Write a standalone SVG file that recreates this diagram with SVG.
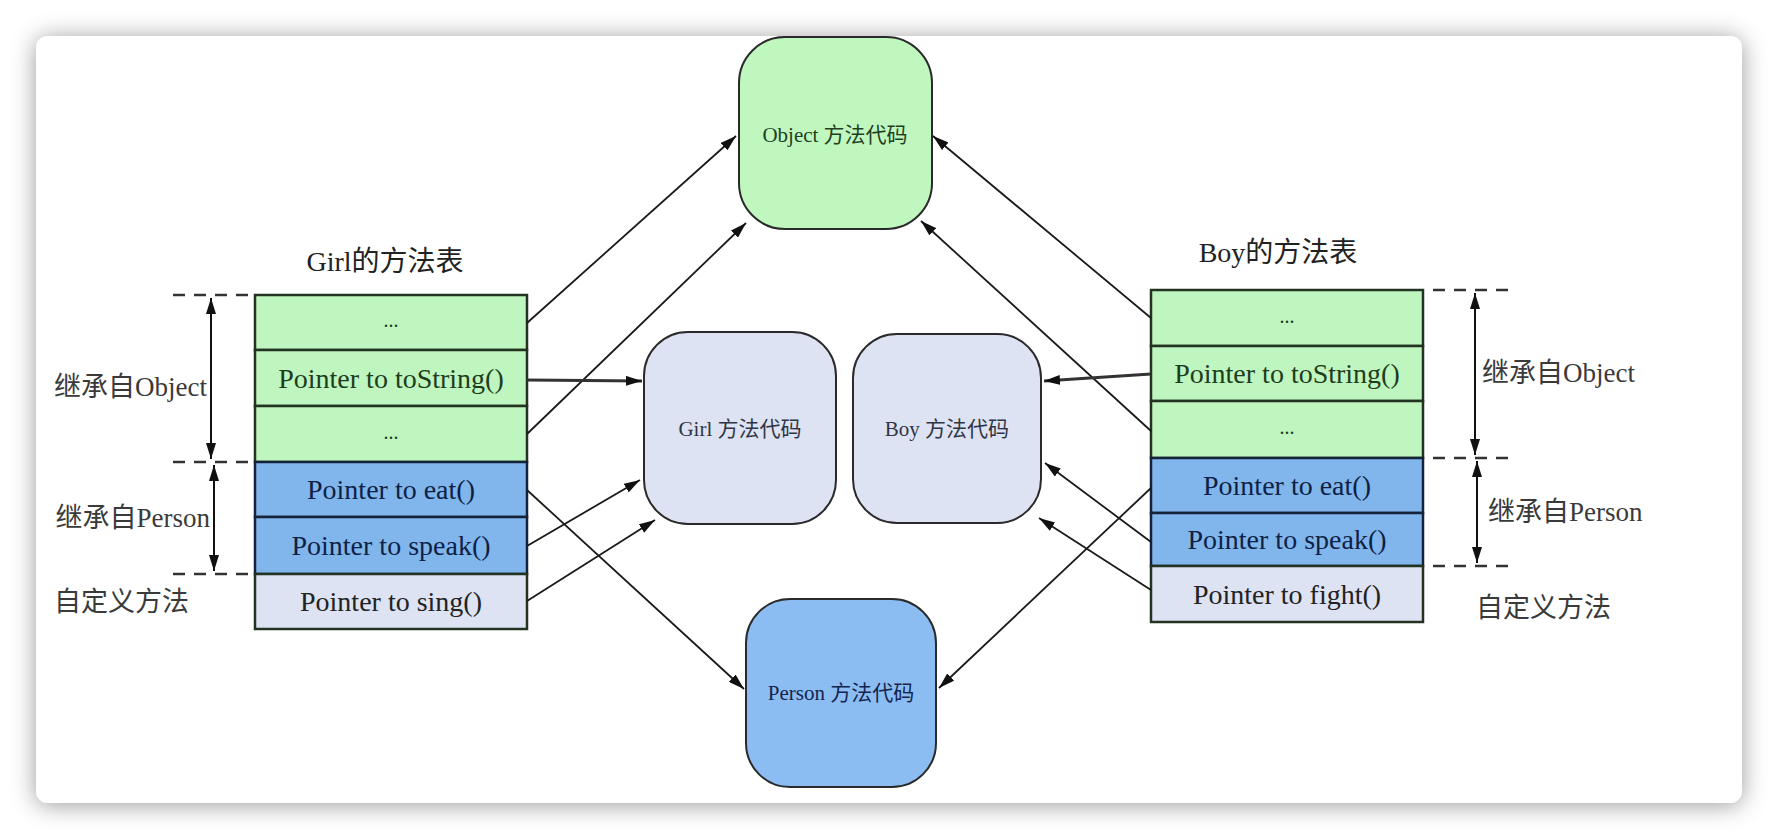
<svg xmlns="http://www.w3.org/2000/svg" width="1778" height="840" viewBox="0 0 1778 840">
<defs>
  <filter id="shadow" x="-5%" y="-8%" width="110%" height="116%">
    <feDropShadow dx="0" dy="2" stdDeviation="12" flood-color="#000" flood-opacity="0.4"/>
  </filter>
  <marker id="ah" viewBox="0 0 16 10" refX="16" refY="5" markerWidth="16" markerHeight="10" markerUnits="userSpaceOnUse" orient="auto">
    <path d="M0,0 L16,5 L0,10 z" fill="#111"/>
  </marker>
  <marker id="ahs" viewBox="0 0 16 10" refX="0" refY="5" markerWidth="16" markerHeight="10" markerUnits="userSpaceOnUse" orient="auto">
    <path d="M16,0 L0,5 L16,10 z" fill="#111"/>
  </marker>
</defs>
<style>
  .row { stroke:#223322; stroke-width:2.5; }
  .g { fill:#bff5bf; }
  .b { fill:#80b6ec; }
  .l { fill:#dde3f2; }
  .rt { font-family:"Liberation Serif","Noto Sans CJK SC",serif; font-size:28px; text-anchor:middle; dominant-baseline:central; }
  .gt { fill:#1d3d1d; }
  .bt { fill:#0f1f45; }
  .lt { fill:#222; }
  .lab { font-family:"Liberation Serif","Noto Sans CJK SC",serif; font-size:27px; fill:#3a3a3a; dominant-baseline:central; }
  .node { stroke:#2a2a2a; stroke-width:2; }
  .nt { font-family:"Liberation Serif","Noto Sans CJK SC",serif; font-size:21px; text-anchor:middle; dominant-baseline:central; }
  .dash { stroke:#333; stroke-width:2.5; stroke-dasharray:12 9; fill:none; }
  .conn { stroke:#1a1a1a; stroke-width:1.8; fill:none; }
  .dim { stroke:#111; stroke-width:2; fill:none; }
</style>

<rect x="0" y="0" width="1778" height="840" fill="#ffffff"/>
<rect x="36" y="36" width="1706" height="767" rx="12" fill="#ffffff" filter="url(#shadow)"/>

<!-- Girl method table -->
<g id="girl-table">
  <text class="rt lt" x="385" y="261">Girl的方法表</text>
  <rect class="row g" x="255" y="295" width="272" height="55"/>
  <rect class="row g" x="255" y="350" width="272" height="56"/>
  <rect class="row g" x="255" y="406" width="272" height="56"/>
  <rect class="row b" x="255" y="462" width="272" height="55" style="stroke:#14223a"/>
  <rect class="row b" x="255" y="517" width="272" height="57" style="stroke:#14223a"/>
  <rect class="row l" x="255" y="574" width="272" height="55"/>
  <text class="rt gt" x="391" y="320" style="font-size:20px">...</text>
  <text class="rt gt" x="391" y="378">Pointer to toString()</text>
  <text class="rt gt" x="391" y="432" style="font-size:20px">...</text>
  <text class="rt bt" x="391" y="489">Pointer to eat()</text>
  <text class="rt bt" x="391" y="545">Pointer to speak()</text>
  <text class="rt lt" x="391" y="601">Pointer to sing()</text>
</g>

<!-- Boy method table -->
<g id="boy-table">
  <text class="rt lt" x="1278" y="252">Boy的方法表</text>
  <rect class="row g" x="1151" y="290" width="272" height="56"/>
  <rect class="row g" x="1151" y="346" width="272" height="55"/>
  <rect class="row g" x="1151" y="401" width="272" height="57"/>
  <rect class="row b" x="1151" y="458" width="272" height="55" style="stroke:#14223a"/>
  <rect class="row b" x="1151" y="513" width="272" height="53" style="stroke:#14223a"/>
  <rect class="row l" x="1151" y="566" width="272" height="56"/>
  <text class="rt gt" x="1287" y="316" style="font-size:20px">...</text>
  <text class="rt gt" x="1287" y="373">Pointer to toString()</text>
  <text class="rt gt" x="1287" y="427" style="font-size:20px">...</text>
  <text class="rt bt" x="1287" y="485">Pointer to eat()</text>
  <text class="rt bt" x="1287" y="539">Pointer to speak()</text>
  <text class="rt lt" x="1287" y="594">Pointer to fight()</text>
</g>

<!-- Code nodes -->
<g id="object-code">
  <rect class="node" x="739" y="37" width="193" height="192" rx="46" fill="#bff7bf"/>
  <text class="nt" x="835" y="135" fill="#1f3f1f">Object 方法代码</text>
</g>
<g id="girl-code">
  <rect class="node" x="644" y="332" width="192" height="192" rx="44" fill="#dee3f3"/>
  <text class="nt" x="740" y="429" fill="#2f3545">Girl 方法代码</text>
</g>
<g id="boy-code">
  <rect class="node" x="853" y="334" width="188" height="189" rx="44" fill="#dee3f3"/>
  <text class="nt" x="947" y="429" fill="#2f3545">Boy 方法代码</text>
</g>
<g id="person-code">
  <rect class="node" x="746" y="599" width="190" height="188" rx="44" fill="#8cbdf2"/>
  <text class="nt" x="841" y="693" fill="#14254f">Person 方法代码</text>
</g>

<!-- Annotations -->
<g id="girl-annotations">
  <line class="dash" x1="173" y1="295" x2="255" y2="295"/>
  <line class="dash" x1="173" y1="462" x2="255" y2="462"/>
  <line class="dash" x1="173" y1="574" x2="255" y2="574"/>
  <line class="dim" x1="211" y1="298" x2="211" y2="459" marker-start="url(#ahs)" marker-end="url(#ah)"/>
  <line class="dim" x1="214" y1="465" x2="214" y2="571" marker-start="url(#ahs)" marker-end="url(#ah)"/>
  <text class="lab" x="207" y="387" text-anchor="end">继承自Object</text>
  <text class="lab" x="210" y="518" text-anchor="end">继承自Person</text>
  <text class="lab" x="54" y="602">自定义方法</text>
</g>
<g id="boy-annotations">
  <line class="dash" x1="1433" y1="290" x2="1512" y2="290"/>
  <line class="dash" x1="1433" y1="458" x2="1512" y2="458"/>
  <line class="dash" x1="1433" y1="566" x2="1512" y2="566"/>
  <line class="dim" x1="1475" y1="293" x2="1475" y2="455" marker-start="url(#ahs)" marker-end="url(#ah)"/>
  <line class="dim" x1="1477" y1="461" x2="1477" y2="563" marker-start="url(#ahs)" marker-end="url(#ah)"/>
  <text class="lab" x="1482" y="373">继承自Object</text>
  <text class="lab" x="1488" y="512">继承自Person</text>
  <text class="lab" x="1476" y="608">自定义方法</text>
</g>

<!-- Connectors -->
<g id="connectors">
  <line class="conn" x1="527" y1="323" x2="736" y2="136" marker-end="url(#ah)"/>
  <line class="conn" x1="527" y1="434" x2="746" y2="223" marker-end="url(#ah)"/>
  <line class="conn" x1="527" y1="380" x2="642" y2="381" marker-end="url(#ah)" style="stroke-width:2.8;stroke:#333"/>
  <line class="conn" x1="527" y1="490" x2="744" y2="689" marker-end="url(#ah)"/>
  <line class="conn" x1="527" y1="546" x2="640" y2="480" marker-end="url(#ah)"/>
  <line class="conn" x1="527" y1="601" x2="655" y2="520" marker-end="url(#ah)"/>
  <line class="conn" x1="1151" y1="318" x2="933" y2="136" marker-end="url(#ah)"/>
  <line class="conn" x1="1151" y1="431" x2="921" y2="221" marker-end="url(#ah)"/>
  <line class="conn" x1="1151" y1="374" x2="1044" y2="381" marker-end="url(#ah)" style="stroke-width:2.8;stroke:#333"/>
  <line class="conn" x1="1151" y1="488" x2="939" y2="688" marker-end="url(#ah)"/>
  <line class="conn" x1="1151" y1="542" x2="1045" y2="463" marker-end="url(#ah)"/>
  <line class="conn" x1="1151" y1="590" x2="1039" y2="518" marker-end="url(#ah)"/>
</g>
</svg>
